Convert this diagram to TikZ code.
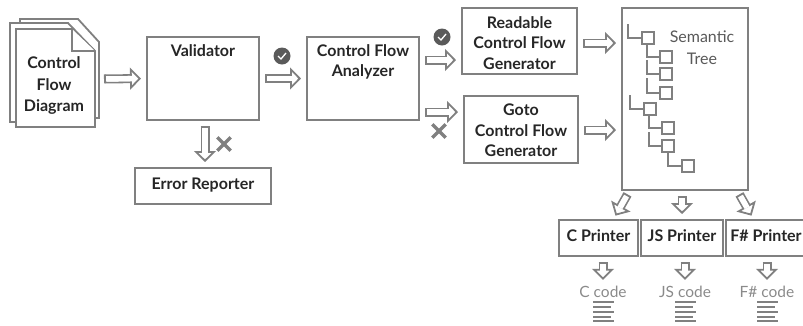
\documentclass[tikz,border=0pt]{standalone}
\usepackage{fontspec}
\setmainfont{Lato}
\usepackage{xcolor}
\usetikzlibrary{arrows.meta,positioning}
\definecolor{linegray}{HTML}{808080}
\definecolor{markgray}{HTML}{5A5A5A}
\definecolor{codegray}{HTML}{8A8A8A}
\tikzset{
    block/.style={draw=linegray,line width=2pt},
    blocktext/.style={align=center,font=\fontsize{16}{20.5}\selectfont\bfseries,text=black!85,inner sep=0pt},
    single/.style={block,align=center,font=\fontsize{16}{20}\selectfont\bfseries,text=black!85,text height=10pt,text depth=4pt},
    page/.style={draw=linegray,line width=1.8pt,fill=white,line join=miter},
    leaf/.style={draw=linegray,line width=1.6pt,minimum size=12pt,inner sep=0pt},
    branch/.style={draw=linegray,line width=1.6pt},
    hollow/.style={draw=linegray,line width=1.8pt,double=white,double distance=5.4pt,shorten <=5pt,shorten >=5pt,
        {Bar[width=9pt,line width=1.8pt]}-{Triangle[open,length=11pt,width=22pt,line width=1.8pt,fill=white]},
        postaction={draw=white,-,double=none,line width=5.4pt,shorten <=8pt,shorten >=14pt}},
    codetext/.style={font=\fontsize{15.5}{17}\selectfont,text=codegray,inner sep=0pt,minimum height=14pt},
    okmark/.style={circle,fill=markgray,minimum size=17pt,inner sep=0pt},
    nomark/.style={minimum size=13pt,inner sep=0pt},
}
\begin{document}
\begin{tikzpicture}[x=1pt,y=-1pt]
    \useasboundingbox (0,0) rectangle (803,325);

    % Stack of pages
    \draw[page] (20,118) -- (20,19) -- (78,19) -- (99,42) -- (99,118) -- cycle;
    \draw[page] (10,122) -- (10,23) -- (68,23) -- (94,50) -- (94,122) -- cycle;
    \draw[page] (16,127) -- (16,29) -- (72,29) -- (95,51) -- (95,127) -- cycle;
    \draw[page] (72,29) -- (72,51) -- (95,51);
    \node[blocktext,font=\fontsize{16}{21.5}\selectfont\bfseries] (diagram) at (54,85.5) {Control\\Flow\\Diagram};
    \coordinate (stack) at (99,79);

    % Boxes
    \node[block,minimum width=112pt,minimum height=83pt] (validator) at (203,78.5) {};
    \node[blocktext,below=8pt of validator.north] (validatortext) {Validator};
    \node[single,minimum width=136pt,minimum height=36pt] (reporter) at (203,186) {Error Reporter};
    \node[block,minimum width=112pt,minimum height=83pt] (analyzer) at (363,78.5) {};
    \node[blocktext,below=8pt of analyzer.north] (analyzertext) {Control Flow\\Analyzer};
    \node[block,minimum width=115pt,minimum height=66pt] (readable) at (519.5,41) {};
    \node[blocktext,below=9pt of readable.north] (readabletext) {Readable\\Control Flow\\Generator};
    \node[block,minimum width=114pt,minimum height=67pt] (gotoflow) at (521,129.5) {};
    \node[blocktext,below=9pt of gotoflow.north] (gotoflowtext) {Goto\\Control Flow\\Generator};
    \node[block,minimum width=126pt,minimum height=182pt] (tree) at (685,99) {};
    \node[single,minimum width=79pt,minimum height=36pt] (cprinter) at (598.5,238) {C Printer};
    \node[single,minimum width=82pt,minimum height=36pt] (jsprinter) at (682,238) {JS Printer};
    \node[single,minimum width=80pt,minimum height=36pt] (fsprinter) at (766,238) {F\# Printer};

    % Tree
    \node[font=\fontsize{16}{22}\selectfont,text=black!65,align=center] (treetext) at (702,48) {Semantic\\Tree};
    \foreach \name/\x/\y in {a/648/38,b/666/57,c/666/74,d/666/93,e/650/109,f/668/128,g/668/146,h/688/166} {
        \node[leaf] (\name) at (\x,\y) {};
    }
    \draw[branch] (628,24) |- (a.west);
    \draw[branch] (647,44) |- (b.west);
    \draw[branch] (647,60) |- (c.west);
    \draw[branch] (647,78) |- (d.west);
    \draw[branch] (630,95) |- (e.west);
    \draw[branch] (649,115) |- (f.west);
    \draw[branch] (649,132) |- (g.west);
    \draw[branch] (668,152) |- (h.west);

    % Code labels
    \node[codetext] (ccode) at (603,292) {C code};
    \node[codetext] (jscode) at (685,292) {JS code};
    \node[codetext] (fscode) at (767,292) {F\# code};
    \foreach \x in {603,685,767} {
        \foreach \y/\e in {302/11,307/8,312/11,317/8,321/11} {
            \draw[linegray,line width=1.6pt] (\x-10,\y) -- (\x+\e,\y);
        }
    }

    % Arrows
    \coordinate (ctop) at (613,220);
    \coordinate (ftop) at (754,220);
    \coordinate (treeleft) at (630,190);
    \coordinate (treeright) at (737,190);
    \draw[hollow] (stack) -- (validator.west);
    \draw[hollow] (validator.east) -- (analyzer.west);
    \draw[hollow] (analyzer.east |- 0,60) -- (readable.west |- 0,60);
    \draw[hollow] (analyzer.east |- 0,112) -- (gotoflow.west |- 0,112);
    \draw[hollow] (readable.east |- 0,43) -- (tree.west |- 0,43);
    \draw[hollow] (gotoflow.east |- 0,130) -- (tree.west |- 0,130);
    \draw[hollow] ([xshift=2pt]validator.south) -- ([xshift=2pt]reporter.north);
    \draw[hollow] (treeleft) -- (ctop);
    \draw[hollow] (jsprinter.north |- tree.south) -- (jsprinter.north);
    \draw[hollow] (treeright) -- (ftop);
    \draw[hollow] (ccode.north |- cprinter.south) -- (ccode.north);
    \draw[hollow] (jscode.north |- jsprinter.south) -- (jscode.north);
    \draw[hollow] (fscode.north |- fsprinter.south) -- (fscode.north);

    % Marks
    \node[okmark] (okone) at (282,56) {};
    \draw[white,line width=1.3pt] (278,56) -- (281,59) -- (286,53);
    \node[okmark] (oktwo) at (442,37) {};
    \draw[white,line width=1.3pt] (438,37) -- (441,40) -- (446,34);
    \node[nomark] (noone) at (224,144) {};
    \draw[linegray,line width=3.4pt] (noone.north west) -- (noone.south east);
    \draw[linegray,line width=3.4pt] (noone.north east) -- (noone.south west);
    \node[nomark] (notwo) at (439,131) {};
    \draw[linegray,line width=3.4pt] (notwo.north west) -- (notwo.south east);
    \draw[linegray,line width=3.4pt] (notwo.north east) -- (notwo.south west);
\end{tikzpicture}
\end{document}
